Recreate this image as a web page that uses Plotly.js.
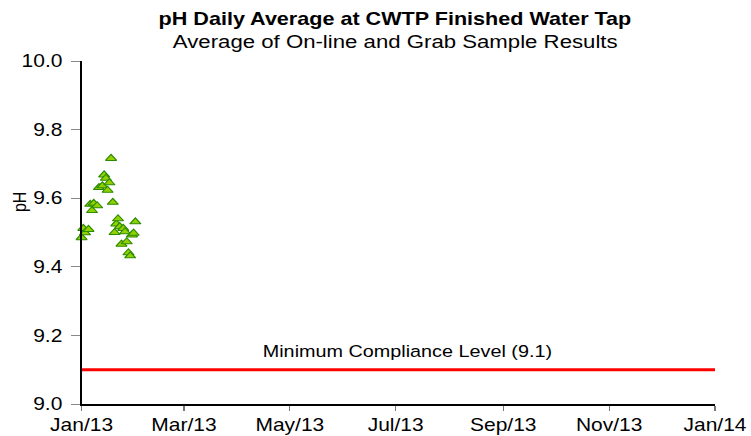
<!DOCTYPE html>
<html>
<head>
<meta charset="utf-8">
<script src="https://cdn.plot.ly/plotly-3.0.1.min.js"></script>
<style>
html,body{margin:0;padding:0;background:#fff;overflow:hidden;}
#wrap{width:751px;height:436px;overflow:hidden;}
#chart{width:626px;height:436px;transform:scaleX(1.19968);transform-origin:0 0;}
</style>
</head>
<body>
<div id="wrap"><div id="chart"></div></div>
<script>
const dates = ['2013-01-01','2013-01-02','2013-01-03','2013-01-05','2013-01-06','2013-01-07','2013-01-08','2013-01-10','2013-01-11','2013-01-13','2013-01-14','2013-01-15','2013-01-16','2013-01-17','2013-01-18','2013-01-19','2013-01-20','2013-01-21','2013-01-22','2013-01-23','2013-01-24','2013-01-25','2013-01-26','2013-01-27','2013-01-28','2013-01-29','2013-01-30','2013-01-31','2013-02-01'];
const phValues = [9.485,9.512,9.499,9.509,9.582,9.564,9.585,9.578,9.631,9.636,9.668,9.658,9.623,9.645,9.716,9.588,9.500,9.525,9.540,9.517,9.466,9.512,9.502,9.473,9.441,9.432,9.493,9.498,9.531];
const complianceDates = ['2013-01-01','2014-01-01'];
const complianceLevel = [9.1, 9.1];
const tickDates = ['2013-01-01','2013-03-01','2013-05-01','2013-07-01','2013-09-01','2013-11-01','2014-01-01'];
const tickLabels = ['Jan/13','Mar/13','May/13','Jul/13','Sep/13','Nov/13','Jan/14'];
const yTicks = [9.0, 9.2, 9.4, 9.6, 9.8, 10.0];
const yTickLabels = ['9.0','9.2','9.4','9.6','9.8','10.0'];
const titleText = 'pH Daily Average at CWTP Finished Water Tap';
const subtitleText = 'Average of On-line and Grab Sample Results';
const complianceText = 'Minimum Compliance Level (9.1)';
const yTitleText = 'pH';

const font = 'Liberation Sans, Arial, sans-serif';
const data = [
  {x: complianceDates, y: complianceLevel, mode: 'lines', line: {color: '#ff0000', width: 3}, hoverinfo: 'skip', cliponaxis: false},
  {x: dates, y: phValues, mode: 'markers', type: 'scatter',
   marker: {symbol: 'triangle-up', size: 8, color: '#92d000', line: {color: '#2a8a00', width: 1}}, cliponaxis: false}
];
const layout = {
  width: 626, height: 436,
  margin: {l: 67.5, r: 30.2, t: 61, b: 32},
  paper_bgcolor: '#fff', plot_bgcolor: '#fff',
  showlegend: false,
  font: {family: font, color: '#000', size: 16},
  xaxis: {type: 'date', range: ['2013-01-01','2014-01-01'], tickmode: 'array', tickvals: tickDates, ticktext: tickLabels,
          showgrid: false, zeroline: false, showline: true, linecolor: '#000', linewidth: 1.5,
          ticks: 'outside', ticklen: 5, tickcolor: '#777', tickfont: {size: 17.5, family: font}},
  yaxis: {range: [9.0, 10.0], tickmode: 'array', tickvals: yTicks, ticktext: yTickLabels,
          showgrid: false, zeroline: false, showline: true, linecolor: '#000', linewidth: 1.5,
          ticks: 'outside', ticklen: 7, tickcolor: '#888', ticklabelstandoff: 4, tickfont: {size: 17.5, family: font}},
  annotations: [
    {x: '2013-07-08', y: 9.1, xref: 'x', yref: 'y', text: complianceText, showarrow: false,
     yanchor: 'bottom', yshift: 8, font: {size: 16.5, family: font, color: '#000'}},
    {x: 0.495, y: 1 + (61 - 19) / 343, xref: 'paper', yref: 'paper', text: '<b>' + titleText + '</b>', showarrow: false,
     xanchor: 'center', yanchor: 'middle', font: {size: 18, family: font, color: '#000'}},
    {x: 0.495, y: 1 + (61 - 41) / 343, xref: 'paper', yref: 'paper', text: subtitleText, showarrow: false,
     xanchor: 'center', yanchor: 'middle', font: {size: 18.5, family: font, color: '#000'}},
    {x: (15.5 - 67.5) / 528.3, y: 1 - (202 - 61) / 343, xref: 'paper', yref: 'paper', text: yTitleText, showarrow: false,
     textangle: -90, xanchor: 'center', yanchor: 'middle', font: {size: 16, family: font, color: '#000'}}
  ]
};
Plotly.newPlot('chart', data, layout, {displayModeBar: false, staticPlot: true});
</script>
</body>
</html>
